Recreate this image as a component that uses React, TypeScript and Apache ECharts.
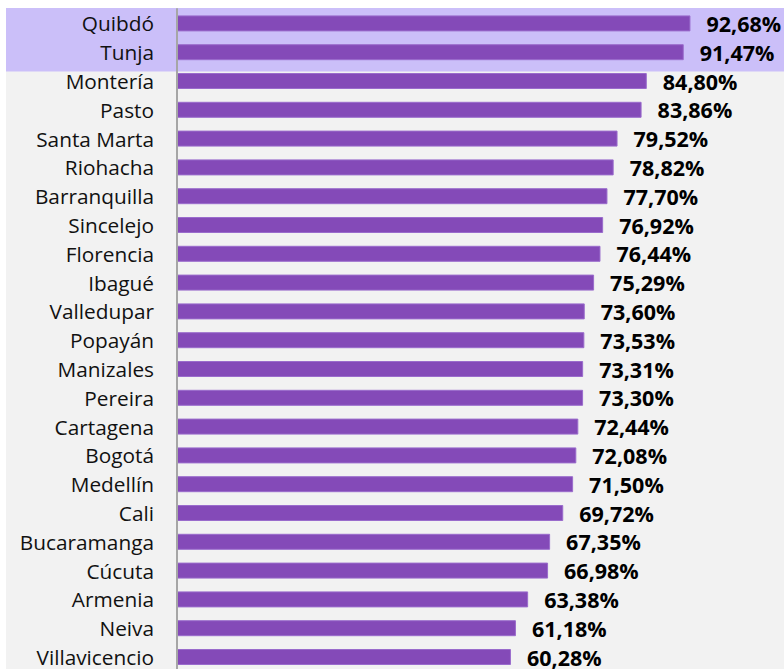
import React, { useEffect, useRef } from "react";
import * as echarts from "echarts";

const categories = [
  "Quibdó", "Tunja", "Montería", "Pasto", "Santa Marta", "Riohacha", "Barranquilla",
  "Sincelejo", "Florencia", "Ibagué", "Valledupar", "Popayán", "Manizales", "Pereira",
  "Cartagena", "Bogotá", "Medellín", "Cali", "Bucaramanga", "Cúcuta", "Armenia", "Neiva",
  "Villavicencio",
];
const values = [
  92.68, 91.47, 84.8, 83.86, 79.52, 78.82, 77.7, 76.92, 76.44, 75.29, 73.6, 73.53, 73.31,
  73.3, 72.44, 72.08, 71.5, 69.72, 67.35, 66.98, 63.38, 61.18, 60.28,
];
const highlighted = ["Quibdó", "Tunja"];

const FONT = "'Open Sans', 'Noto Sans', sans-serif";

export default function App() {
  const ref = useRef<HTMLDivElement>(null);
  useEffect(() => {
    if (!ref.current) return;
    const chart = echarts.init(ref.current, null, { renderer: "svg" });
    chart.setOption({
      animation: false,
      backgroundColor: "#f2f2f2",
      grid: { left: 171, top: 1, width: 554, height: 662.4, containLabel: false },
      xAxis: {
        type: "value",
        min: 0,
        max: 100,
        show: false,
      },
      yAxis: {
        type: "category",
        data: categories,
        inverse: true,
        axisLine: { show: true, lineStyle: { color: "#a6a6a6", width: 2 } },
        axisTick: { show: false },
        axisLabel: {
          margin: 23,
          color: "#111111",
          fontSize: 20.8,
          fontFamily: FONT,
        },
        splitLine: { show: false },
        z: 3,
      },
      series: [
        {
          type: "bar",
          data: values,
          barWidth: 16,
          itemStyle: { color: "#844ab8", borderColor: "#9a6ccc", borderWidth: 1 },
          label: {
            show: true,
            position: "right",
            distance: 16,
            color: "#000000",
            fontSize: 21.5,
            fontWeight: "bold",
            fontFamily: FONT,
            formatter: (p: any) => p.value.toFixed(2).replace(".", ",") + "%",
          },
        },
      ],
    });
    const y0 = chart.convertToPixel({ yAxisIndex: 0 }, highlighted[0]) as number;
    const y1 = chart.convertToPixel({ yAxisIndex: 0 }, highlighted[highlighted.length - 1]) as number;
    const band = y1 - y0;
    chart.setOption({
      graphic: [
        {
          type: "rect",
          z: -10,
          silent: true,
          shape: { x: 0, y: 0, width: 778, height: y1 + band * 0.5 + 5 },
          style: { fill: "#cbbff9" },
        },
      ],
    });
    return () => chart.dispose();
  }, []);
  return (
    <div
      style={{
        position: "fixed",
        left: 6,
        top: 8,
        width: 778,
        height: 661,
        overflow: "hidden",
      }}
    >
      <div ref={ref} style={{ width: 778, height: 680 }} />
    </div>
  );
}
